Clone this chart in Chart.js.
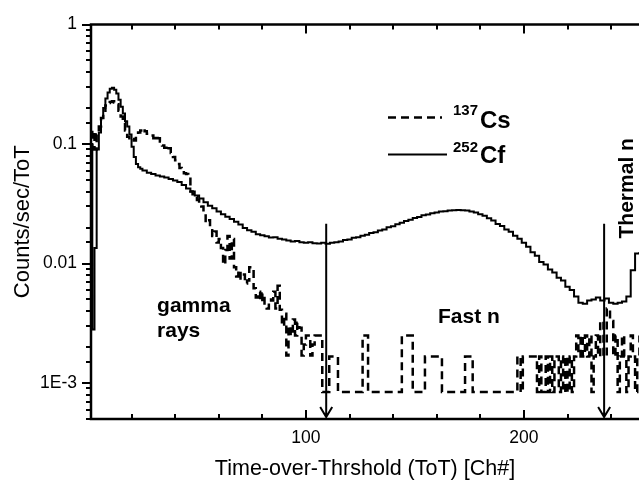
<!DOCTYPE html>
<html>
<head>
<meta charset="utf-8">
<title>ToT spectrum</title>
<script src="https://cdn.jsdelivr.net/npm/chart.js@4.4.1/dist/chart.umd.min.js"></script>
<style>
  html, body { margin: 0; padding: 0; background: #fff; overflow: hidden; }
  #box { position: relative; width: 639px; height: 484px; }
</style>
</head>
<body>
<div id="box"><canvas id="chart"></canvas></div>
<script>
const FONT = '"Liberation Sans", Arial, Helvetica, sans-serif';

// 252Cf spectrum (solid line), counts/sec per ToT channel
const cfChannel = [1, 2, 3, 4, 5, 6, 7, 8, 9, 10, 11, 12, 13, 14, 15, 16, 17, 18, 19, 20, 21, 22, 23, 24,
  25, 27, 29, 31, 33, 35, 37, 39, 41, 43, 45, 47, 49, 51, 53, 55, 57, 59, 61, 63, 65, 67, 69, 71, 73, 75,
  77, 79, 81, 83, 85, 87, 89, 91, 93, 95, 97, 99, 101, 103, 105, 107, 109, 111, 113, 115, 117, 119, 121,
  123, 125, 127, 129, 131, 133, 135, 137, 139, 141, 143, 145, 147, 149, 151, 153, 155, 157, 159, 161, 163,
  165, 167, 169, 171, 173, 175, 177, 179, 181, 183, 185, 187, 189, 191, 193, 195, 197, 199, 201, 203, 205,
  207, 209, 211, 213, 215, 217, 219, 221, 223, 225, 227, 229, 231, 233, 235, 237, 239, 241, 243, 245, 247,
  249, 251, 253, 255];
const cfRate = [0.1, 0.0028, 0.0135, 0.09, 0.125, 0.165, 0.2, 0.24, 0.27, 0.29, 0.295, 0.285, 0.265, 0.235,
  0.205, 0.18, 0.155, 0.14, 0.12, 0.095, 0.078, 0.068, 0.064, 0.062,
  0.06, 0.0575, 0.056, 0.0545, 0.0535, 0.0525, 0.051, 0.0495, 0.048, 0.0455, 0.0425, 0.04, 0.037, 0.035,
  0.0325, 0.0305, 0.029, 0.0272, 0.0258, 0.0246, 0.0236, 0.0224, 0.0212, 0.0198, 0.019, 0.0184,
  0.0176, 0.0172, 0.0169, 0.0165, 0.0166, 0.0161, 0.0159, 0.0156, 0.0153, 0.0154, 0.0151, 0.0149, 0.0151,
  0.0148, 0.0147, 0.0149, 0.0146, 0.0149, 0.0151, 0.0153, 0.0157, 0.0159, 0.0164,
  0.0166, 0.0171, 0.0174, 0.018, 0.0183, 0.0189, 0.0193, 0.0201, 0.0205, 0.0213, 0.0219, 0.0227, 0.0232,
  0.024, 0.0245, 0.0253, 0.0257, 0.0264, 0.0267, 0.0273, 0.0274,
  0.0278, 0.0279, 0.0281, 0.0279, 0.0278, 0.0272, 0.0267, 0.0258, 0.0251, 0.0239, 0.0229, 0.0214, 0.0206,
  0.0193, 0.0184, 0.0171, 0.0161, 0.0149, 0.0138, 0.0124, 0.0116,
  0.0103, 0.0098, 0.0089, 0.0084, 0.0076, 0.0072, 0.0064, 0.006, 0.0053, 0.0047, 0.0046, 0.0049, 0.005,
  0.0052, 0.0049, 0.0051, 0.0047, 0.0046, 0.0047, 0.0048, 0.0053,
  0.0088, 0.0121, 0.0125, 0.0125];

// 137Cs spectrum (dashed line)
const csChannel = [1, 2, 3, 4, 5, 6, 7, 8, 9, 10, 11, 12, 13, 14, 15, 16, 17, 18, 19, 20, 21, 22, 23, 24, 25,
  26, 27, 28, 29, 30, 31, 32, 33, 34, 35, 36, 37, 38, 39, 40, 41, 42, 43, 44, 45, 46, 47, 48, 49, 50,
  51, 52, 53, 54, 55, 56, 57, 58, 59, 60, 61, 62, 63, 64, 65, 66, 67, 68, 69, 70, 71, 72, 73, 74, 75,
  76, 77, 78, 79, 80, 81, 82, 83, 84, 85, 86, 87, 88, 89, 90, 91, 92, 93, 94, 95, 96, 97, 98, 99, 100,
  101, 102, 103, 104, 107.5, 110.7, 114.7, 126, 128.5, 144, 149, 154.6, 162.4, 173, 176.5,
  197, 198.5, 199.5, 206, 207, 208, 210, 211, 212, 213, 214, 216, 217, 218, 219, 220, 221, 222, 223,
  224, 225, 226, 227, 228, 229, 230, 231, 232, 233, 234, 235, 236.5, 238, 239.5, 241, 242, 243, 244,
  245, 246, 247, 248, 249, 250, 251, 252, 253, 255];
const csRate = [0.09, 0.13, 0.09, 0.12, 0.14, 0.165, 0.19, 0.21, 0.22, 0.225, 0.228, 0.222, 0.215, 0.19,
  0.17, 0.15, 0.13, 0.115, 0.108, 0.11, 0.107, 0.118, 0.125, 0.13, 0.135,
  0.128, 0.122, 0.12, 0.118, 0.112, 0.118, 0.112, 0.105, 0.097, 0.093, 0.088, 0.092, 0.084, 0.078, 0.073,
  0.068, 0.063, 0.06, 0.057, 0.056, 0.054, 0.04, 0.038, 0.036, 0.034,
  0.031, 0.03, 0.026, 0.022, 0.023, 0.019, 0.017, 0.0185, 0.015, 0.016, 0.0135, 0.0098, 0.013, 0.017,
  0.011, 0.016, 0.0093, 0.0078, 0.0088, 0.0075, 0.0081, 0.0068, 0.0072, 0.0093, 0.0086,
  0.0062, 0.0052, 0.0058, 0.0048, 0.0056, 0.0045, 0.0042, 0.005, 0.0049, 0.0058, 0.0042, 0.0065, 0.0041,
  0.003, 0.0038, 0.0017, 0.003, 0.0025, 0.0034, 0.0025, 0.0032, 0.0029, 0.0017, 0.0021, 0.0025,
  0.0025, 0.0017, 0.0021, 0.0025, 0.00084, 0.00167, 0.00084, 0.0025, 0.00084, 0.0025, 0.00084, 0.00167,
  0.00084, 0.00167, 0.00084,
  0.00167, 0.00084, 0.00167, 0.00084, 0.00167, 0.00084, 0.00167, 0.00084, 0.00167, 0.00084, 0.00167,
  0.00084, 0.00167, 0.00084, 0.00167, 0.00084, 0.00167, 0.00084, 0.00167,
  0.0025, 0.00167, 0.0025, 0.00167, 0.0025, 0.00167, 0.0025, 0.00084, 0.00167, 0.0025, 0.00167, 0.0033,
  0.00167, 0.0042, 0.0033, 0.00167, 0.0025, 0.00084, 0.00167,
  0.0025, 0.00167, 0.00084, 0.00167, 0.0025, 0.00167, 0.00084, 0.00167, 0.0025, 0.0025];

const yTickValues = [0.001, 0.01, 0.1, 1];
const yTickLabels = ['1E-3', '0.01', '0.1', '1'];
const xTickValues = [100, 200];
const xTickLabels = ['100', '200'];

const seriesSup = ['137', '252'];
const seriesName = ['Cs', 'Cf'];

// region cuts and their labels
const cutChannel = [109.3, 236.8];
const cutTop = 0.0215;
const noteText = ['gamma', 'rays', 'Fast n'];
const noteX = [31.7, 31.7, 160.6];
const noteY = [0.00394, 0.00243, 0.0032];
const thermalText = 'Thermal n';
const thermalX = 250;
const thermalY = 0.0162;

function toPoints(xs, ys) {
  return xs.map((c, i) => ({x: c, y: ys[i]}));
}

function isDecade(v) {
  const e = Math.log10(v);
  return Math.abs(e - Math.round(e)) < 1e-6;
}

function pickLabel(values, labels, v) {
  const i = values.findIndex(t => Math.abs(t - v) / t < 1e-6);
  return i >= 0 ? labels[i] : '';
}

// frame, inward/outward ticks, cut arrows, notes and legend
const decor = {
  id: 'decor',
  afterDatasetsDraw(chart) {
    const {ctx, chartArea: a, scales: {x, y}} = chart;
    ctx.save();
    ctx.strokeStyle = '#000';
    ctx.fillStyle = '#000';

    ctx.lineWidth = 2.5;
    ctx.beginPath();
    ctx.moveTo(a.right, a.top);
    ctx.lineTo(a.left, a.top);
    ctx.lineTo(a.left, a.bottom);
    ctx.lineTo(a.right, a.bottom);
    ctx.stroke();

    ctx.lineWidth = 2;
    ctx.beginPath();
    y.ticks.forEach(t => {
      const py = Math.round(y.getPixelForValue(t.value));
      const len = isDecade(t.value) ? 9 : 5;
      ctx.moveTo(a.left, py);
      ctx.lineTo(a.left - len, py);
    });
    x.ticks.forEach(t => {
      const px = Math.round(x.getPixelForValue(t.value));
      const len = t.value % 100 === 0 ? 9 : 5;
      ctx.moveTo(px, a.bottom);
      ctx.lineTo(px, a.bottom - len);
      ctx.moveTo(px, a.top);
      ctx.lineTo(px, a.top + len);
    });
    ctx.stroke();

    const top = y.getPixelForValue(cutTop);
    const tip = a.bottom - 2;
    ctx.beginPath();
    cutChannel.forEach(c => {
      const px = x.getPixelForValue(c);
      ctx.moveTo(px, top);
      ctx.lineTo(px, tip);
      ctx.moveTo(px - 6, tip - 10);
      ctx.lineTo(px, tip);
      ctx.lineTo(px + 6, tip - 10);
    });
    ctx.stroke();

    ctx.font = 'bold 21px ' + FONT;
    ctx.textAlign = 'left';
    ctx.textBaseline = 'alphabetic';
    noteText.forEach((s, i) => {
      ctx.fillText(s, x.getPixelForValue(noteX[i]), y.getPixelForValue(noteY[i]));
    });
    ctx.save();
    ctx.translate(x.getPixelForValue(thermalX), y.getPixelForValue(thermalY));
    ctx.rotate(-Math.PI / 2);
    ctx.fillText(thermalText, 0, 0);
    ctx.restore();

    chart.data.datasets.forEach((ds, i) => {
      const lx = a.left + 297;
      const ly = a.top + 93 + i * 37;
      ctx.lineWidth = ds.borderWidth;
      ctx.setLineDash(ds.borderDash || []);
      ctx.beginPath();
      ctx.moveTo(lx, ly);
      ctx.lineTo(lx + 54 + i * 5, ly);
      ctx.stroke();
      ctx.setLineDash([]);
      ctx.font = 'bold 15px ' + FONT;
      ctx.fillText(seriesSup[i], lx + 65, ly - 3);
      ctx.font = 'bold 24px ' + FONT;
      ctx.fillText(seriesName[i], lx + 92, ly + 10 - i * 2);
    });
    ctx.restore();
  }
};

Chart.defaults.font.family = FONT;
Chart.defaults.color = '#000';

new Chart(document.getElementById('chart'), {
  type: 'line',
  data: {
    datasets: [{
      label: '137Cs',
      data: toPoints(csChannel, csRate),
      borderColor: '#000',
      borderWidth: 2.5,
      borderDash: [8, 5],
      stepped: 'before',
      pointRadius: 0,
      fill: false
    }, {
      label: '252Cf',
      data: toPoints(cfChannel, cfRate),
      borderColor: '#000',
      borderWidth: 2,
      stepped: 'before',
      pointRadius: 0,
      fill: false
    }]
  },
  options: {
    responsive: true,
    maintainAspectRatio: false,
    devicePixelRatio: 1,
    animation: false,
    layout: {padding: {top: 12, right: 0, bottom: 0, left: 0}},
    plugins: {legend: {display: false}, tooltip: {enabled: false}},
    scales: {
      x: {
        type: 'linear',
        min: 1.4,
        max: 252.8,
        grid: {display: false, drawTicks: false},
        border: {display: false},
        ticks: {
          stepSize: 20,
          includeBounds: false,
          autoSkip: false,
          maxRotation: 0,
          padding: 9,
          font: {size: 17.5},
          callback: v => pickLabel(xTickValues, xTickLabels, v)
        },
        title: {
          display: true,
          text: 'Time-over-Thrshold (ToT) [Ch#]',
          font: {size: 21.5},
          padding: {top: 0, bottom: 2}
        },
        afterFit: s => { s.height = 65; }
      },
      y: {
        type: 'logarithmic',
        min: 0.0005,
        max: 1,
        grid: {display: false, drawTicks: false},
        border: {display: false},
        ticks: {
          autoSkip: false,
          padding: 14,
          font: {size: 17.5},
          callback: v => pickLabel(yTickValues, yTickLabels, v)
        },
        title: {
          display: true,
          text: 'Counts/sec/ToT',
          font: {size: 22},
          padding: {top: 10, bottom: 0}
        },
        afterFit: s => { s.width = 91; }
      }
    }
  },
  plugins: [decor]
});
</script>
</body>
</html>
